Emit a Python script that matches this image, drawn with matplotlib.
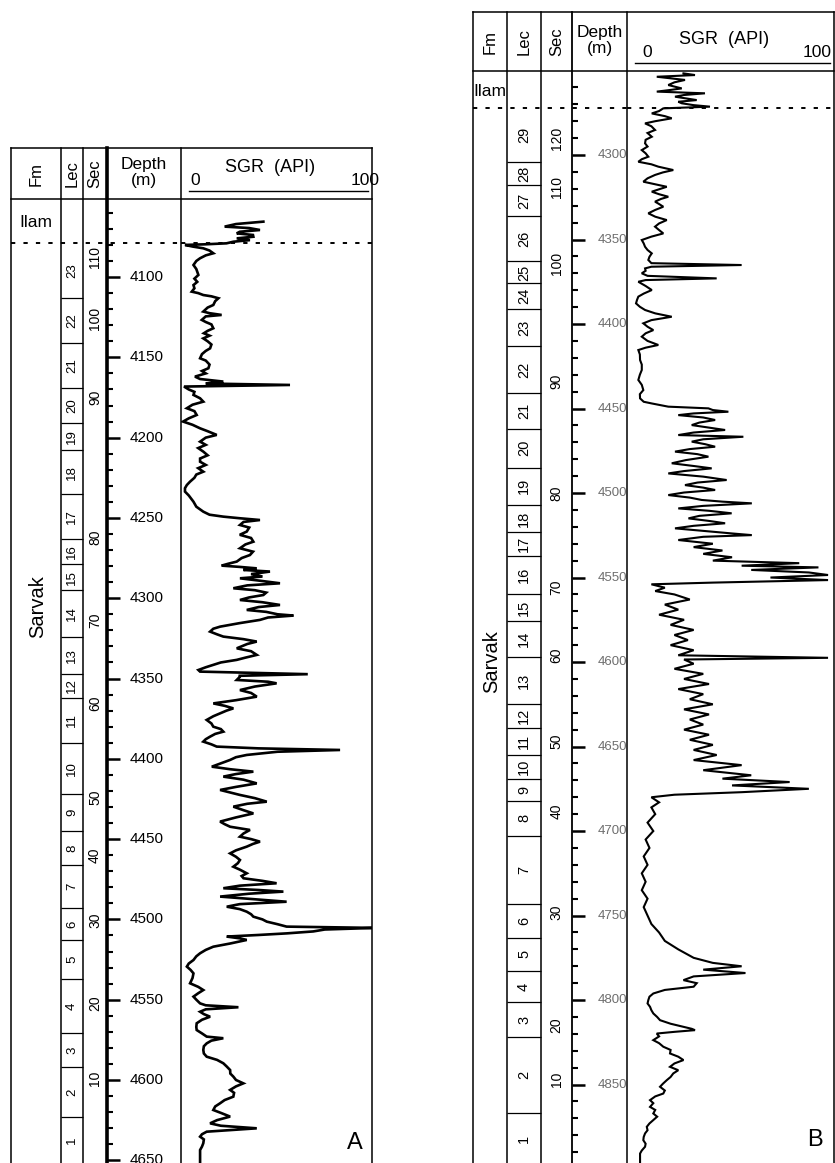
import numpy as np
import matplotlib.pyplot as plt

plt.rcParams['font.family'] = ['Liberation Sans', 'DejaVu Sans']

W, H = 835, 1163

# ---------------- well A ----------------
a_lec_bounds = [4079, 4113, 4141, 4169, 4191, 4208, 4235, 4263, 4279, 4295, 4324, 4347,
                4362, 4390, 4422, 4445, 4466, 4493, 4513, 4537, 4571, 4592, 4623, 4652]
a_lec_names = list(range(23, 0, -1))
a_sec_labels = [110, 100, 90, 80, 70, 60, 50, 40, 30, 20, 10]
a_sec_depths = [4087.5, 4125.5, 4174.7, 4261.9, 4313.6, 4365.3, 4423.8, 4459.9, 4500.4, 4552.1, 4598.8]
a_contact = 4079

a_depth = [4065.5, 4067, 4068.6, 4069.5, 4070.7, 4071.8, 4072.8, 4073.8, 4074.9, 4075.9, 4077, 4078,
           4079, 4079.6, 4080, 4081, 4082.1, 4083.5, 4085.2, 4086.5, 4088.3, 4090, 4092.5, 4095,
           4098.7, 4101, 4103, 4105, 4107, 4109.1, 4110, 4111.2, 4112, 4113.2, 4115, 4117.4,
           4119, 4121.5, 4122.5, 4123.6, 4124.5, 4126.7, 4128, 4129.5, 4131.9, 4133.5, 4135, 4136.5,
           4138.2, 4140, 4142, 4144.4, 4146, 4148, 4150.6, 4152, 4154.5, 4156.8, 4158.5, 4160,
           4162, 4163.5, 4165.1, 4166.3, 4167.2, 4168.2, 4170, 4171.5, 4173.4, 4175.5, 4177.6, 4179.5,
           4181.7, 4183.5, 4185.9, 4188, 4190, 4192, 4194.2, 4196, 4198.3, 4200, 4202.5, 4204.5,
           4206.5, 4208.7, 4211, 4213, 4215, 4217, 4219, 4221.2, 4223, 4225, 4227.4, 4229.5,
           4231.5, 4233.6, 4236, 4239.9, 4243, 4246.1, 4248, 4249.2, 4250.2, 4251.3, 4252.5, 4254.4,
           4256, 4258.5, 4260.5, 4262.5, 4264.8, 4266.5, 4268.9, 4271, 4273.1, 4275, 4277.2, 4278.5,
           4279.7, 4280.5, 4281.4, 4282.4, 4283.4, 4285, 4286.5, 4287.6, 4289, 4290.7, 4292, 4293.8,
           4295, 4296.5, 4298, 4299.5, 4301.1, 4302.5, 4304.2, 4305.5, 4307.3, 4308.5, 4310, 4310.8,
           4312, 4313.5, 4315.5, 4317.7, 4319, 4320.8, 4322.5, 4323.9, 4325.5, 4327, 4328.5, 4331.2,
           4333, 4335.3, 4337, 4338.4, 4340, 4341.5, 4343, 4344.7, 4345.7, 4347.3, 4348.3, 4349,
           4350.9, 4352, 4353, 4355, 4357.2, 4359, 4361.3, 4363.5, 4365.5, 4367, 4368.6, 4370,
           4371.7, 4373.5, 4375.8, 4378, 4380, 4381.5, 4383.1, 4384.5, 4386.2, 4387.8, 4389.3, 4391,
           4392.4, 4393.5, 4394.5, 4395.6, 4397.6, 4399, 4400.7, 4402.8, 4404.9, 4406.5, 4408, 4409.5,
           4411.1, 4413, 4415.3, 4417.5, 4419.4, 4421, 4422.5, 4424.5, 4426.7, 4428, 4429.8, 4432,
           4434, 4436.5, 4439.1, 4440.7, 4442.3, 4443.3, 4444.3, 4446.5, 4448.5, 4450, 4451.6, 4453,
           4454.7, 4457, 4458.9, 4461, 4463, 4465, 4467.2, 4469, 4471.3, 4473, 4474.4, 4476,
           4477.5, 4479, 4480.6, 4481.7, 4482.7, 4484, 4485.8, 4487.5, 4489, 4490.5, 4492.1, 4493.6,
           4495.2, 4496.8, 4498.3, 4500, 4501.4, 4503, 4504.5, 4505.3, 4506.3, 4507.5, 4508.7, 4509.7,
           4510.7, 4511.8, 4512.8, 4515, 4517, 4519, 4521.1, 4523, 4525.3, 4527.5, 4529.4, 4531.5,
           4533.6, 4536.5, 4539.8, 4542, 4544, 4546, 4548.1, 4550, 4552.3, 4553.5, 4554.7, 4556,
           4557.5, 4559, 4560.6, 4562.5, 4564.7, 4567, 4568.9, 4571, 4573, 4574, 4575.5, 4577.2,
           4579, 4581.3, 4583.5, 4585.5, 4587.5, 4589.6, 4591.5, 4593.8, 4596, 4597.9, 4600, 4602.1,
           4604, 4606.2, 4608, 4610.4, 4612.5, 4614.5, 4616.5, 4618.7, 4620.5, 4622.8, 4625, 4627,
           4628.5, 4630.1, 4631.2, 4632.2, 4633.8, 4635.3, 4637, 4639.4, 4641.5, 4643.6, 4652]
a_sgr = [42.5, 28, 22, 35, 40.7, 30, 28.4, 37, 37.2, 28.4, 35.4, 26.6,
         23, 12, 1, 5, 10.7, 14, 16, 12, 9, 7, 5.5, 7,
         8.1, 6, 7.5, 5.5, 6, 4.6, 8, 10.7, 15, 18.7, 17, 16,
         13, 10.7, 14, 20.4, 12, 9.9, 12, 15, 16, 13, 11, 14,
         10.7, 13, 15, 14.3, 12, 10, 9, 12, 14, 13.4, 10, 12,
         6.3, 9, 21.3, 12, 56.6, 0.5, 3, 6, 5.5, 9, 10.7, 5,
         2, 6, 7.2, 3, 0, 5, 9, 13, 17.8, 12, 9, 12,
         8, 10.7, 13, 9, 9, 12, 8, 10.7, 7, 6, 3.7, 2,
         1, 1, 3, 5.5, 7, 10.7, 14, 21.3, 30, 40.7, 32, 30.1,
         35, 33.7, 30, 36, 37.2, 33, 30.1, 37, 35.4, 31, 28.4, 24,
         20.4, 30, 39, 32, 46, 36, 42, 30.1, 40, 51.3, 34, 26.6,
         38, 44, 42.5, 35, 30.1, 42, 51.3, 40, 33.7, 44, 50, 58.4,
         45, 40.7, 30, 19.6, 16, 14.3, 18, 21.3, 32, 39, 34, 28.4,
         36, 39, 33, 28.4, 20, 16, 12, 8.1, 9, 66, 30, 30,
         28.4, 45, 49.5, 38, 30.1, 36, 39, 28, 16, 22, 26.6, 23,
         19.6, 16, 12.5, 15, 16, 20, 21.3, 17, 14.3, 12, 10.7, 15,
         17.8, 40, 83.1, 50, 33.7, 28, 24.9, 20, 15.2, 25, 37.2, 28,
         21.3, 32, 39, 28, 19.6, 25, 30.1, 38, 44.3, 34, 26.6, 32,
         37.2, 28, 19.6, 22, 24.9, 30, 35.4, 32, 30.1, 36, 40.7, 37,
         33.7, 28, 24.9, 28, 30.1, 29, 26.6, 30, 33.7, 31, 32, 42,
         49.5, 30, 21.3, 40, 53.1, 35, 19.6, 38, 54.8, 30, 23.1, 30,
         33.7, 36, 37.2, 42, 44.3, 50, 54.8, 101.6, 75, 68.9, 55, 40,
         23.1, 30, 33.7, 25, 16, 12, 9, 7, 5.5, 3, 2, 4,
         5.5, 5, 3.7, 8, 10.7, 8, 5.5, 7, 9, 12, 29.3, 12,
         9, 11, 14.3, 10, 7.2, 7, 7.2, 10, 12.5, 21.3, 15, 12.5,
         11, 10.7, 11, 12.5, 18, 21.3, 23, 24.9, 25, 26.6, 28, 31.9,
         28, 24.9, 27, 26.6, 22, 19.6, 17, 16, 20, 24.9, 18, 14.3,
         20, 39, 25, 12.5, 10, 9, 11, 10.7, 10, 9, 9]

# ---------------- well B ----------------
b_lec_bounds = [4272, 4304, 4318, 4336, 4363, 4376, 4391, 4413, 4441, 4462, 4485, 4507, 4523, 4537, 4560,
                4576, 4597, 4625, 4639, 4655, 4669, 4682, 4703, 4743, 4763, 4783, 4801, 4822, 4867, 4897]
b_lec_names = list(range(29, 0, -1))
b_sec_labels = [120, 110, 100, 90, 80, 70, 60, 50, 40, 30, 20, 10]
b_sec_depths = [4290, 4319, 4364, 4434, 4500, 4556, 4596, 4647, 4688, 4748, 4815, 4847]
b_contact = 4272.3

b_depth = [4251.7, 4252.7, 4253.7, 4255.6, 4257, 4258.6, 4260.6, 4261.5, 4262.5, 4263.5, 4264.5, 4265.5,
           4267.5, 4268.5, 4269.4, 4270.5, 4271.4, 4272.4, 4274, 4275.4, 4277, 4278.3, 4280, 4281.3,
           4283, 4285.2, 4287, 4289.2, 4291, 4293.1, 4295, 4297.1, 4299, 4301, 4302.5, 4304,
           4305.5, 4306.9, 4308.9, 4310.3, 4311.8, 4313.8, 4315.8, 4317.3, 4318.8, 4320.3, 4321.7, 4323.2,
           4324.7, 4326, 4327.6, 4329, 4330.6, 4332.5, 4334.5, 4336.5, 4338.5, 4340.5, 4342.4, 4344.4,
           4346.4, 4348.3, 4350.3, 4352.3, 4354.3, 4356.2, 4358.2, 4360.2, 4362.1, 4364, 4365.1, 4366.1,
           4367.1, 4368.5, 4370, 4371.5, 4373, 4374, 4375, 4377.5, 4379.9, 4382, 4383.8, 4385.8,
           4387.8, 4389.8, 4391.7, 4393.7, 4395.7, 4397.7, 4399.6, 4401.6, 4403.6, 4405.5, 4407.5, 4410,
           4412.4, 4414, 4415.4, 4418, 4421.3, 4424, 4427.2, 4430, 4433.1, 4436, 4439.1, 4441.5,
           4444, 4446, 4447, 4448.9, 4449.9, 4450.9, 4451.9, 4452.9, 4453.9, 4455.3, 4456.8, 4458.3,
           4459.8, 4461.3, 4462.7, 4464.2, 4465.7, 4466.7, 4468.2, 4469.6, 4471.1, 4472.6, 4474, 4475.5,
           4477, 4478.5, 4480.5, 4482.4, 4484, 4485.4, 4487, 4488.4, 4490.3, 4492.3, 4493.8, 4495.3,
           4496.8, 4498.2, 4499.7, 4501.2, 4502.7, 4504.1, 4505.1, 4506.1, 4507.6, 4509.1, 4510.5, 4512,
           4513.5, 4515, 4516.5, 4517.9, 4519.4, 4520.9, 4522.4, 4523.9, 4524.9, 4525.9, 4527.8, 4530,
           4532, 4534, 4536, 4538, 4540, 4541.5, 4543, 4544, 4545.5, 4547, 4548.5, 4550,
           4551.5, 4553, 4554, 4556, 4558, 4560, 4563, 4566, 4569, 4572, 4575, 4578,
           4581, 4584, 4587, 4590, 4593, 4596, 4597.5, 4598.5, 4601, 4604, 4607, 4610,
           4613, 4616, 4619, 4622, 4625, 4628, 4631, 4634, 4637, 4640, 4643, 4646,
           4649, 4652, 4655, 4658, 4661, 4664, 4667, 4669, 4671, 4673, 4675, 4677,
           4678.5, 4680, 4683, 4686, 4690, 4695, 4700, 4705, 4710, 4715, 4720, 4725,
           4730, 4735, 4740, 4745, 4750, 4755, 4760, 4765, 4770, 4775, 4778, 4780,
           4782, 4784, 4786, 4788.2, 4790, 4792.1, 4794, 4796.1, 4798, 4800, 4802, 4804,
           4806, 4807.9, 4810, 4811.9, 4814, 4815.8, 4817, 4817.8, 4818.8, 4819.8, 4821.5, 4823.7,
           4825.5, 4827.6, 4829.5, 4831.6, 4833.5, 4835.5, 4837.5, 4839.5, 4841.5, 4843.4, 4845.5, 4847.4,
           4849.5, 4851.3, 4853.5, 4855.3, 4857, 4859.2, 4861, 4863.2, 4865, 4867.1, 4869, 4871,
           4873, 4875, 4877, 4878.9, 4881, 4882.9, 4885, 4886.8, 4889, 4890.8, 4897]
b_sgr = [24.7, 30.7, 10.8, 25.5, 20, 16.8, 23.8, 18, 10.8, 35.9, 25, 20.3,
         31.6, 22, 23.8, 30, 38.5, 14.2, 12, 8.2, 15, 18.6, 10, 4.7,
         8, 9.9, 6, 8.2, 5, 4.7, 6, 3, 5, 6.4, 3, 1.2,
         8, 11.6, 19.4, 14, 9.9, 6, 3.8, 10, 16, 12, 8.2, 12,
         16.8, 13, 9.9, 12, 14.2, 10, 6.4, 10, 16, 12, 9.9, 12,
         14.2, 8, 3, 4, 4.7, 6, 8.2, 7, 6.4, 8, 55, 8,
         4.7, 5, 3, 6, 42, 5, 1.2, 5, 8.2, 4, 1.2, 0.5,
         0, 2, 4.7, 10, 18.6, 8, 3.8, 6, 9, 5, 3, 6,
         11.6, 5, 1.2, 2, 2.1, 3, 3, 2, 1.2, 3, 3.8, 2,
         2.1, 4, 8.2, 16.8, 37.7, 40, 48.1, 30, 22, 35, 41.2, 33,
         29, 38, 46.4, 30, 22, 55.9, 35, 29, 36, 41.2, 28, 20.3,
         32, 37.7, 26, 18.6, 30, 39.4, 25, 16.8, 35, 47.2, 32, 25.5,
         35, 41.2, 25, 16.8, 28, 34.2, 45, 60.3, 35, 22, 38, 49.8,
         33, 27.3, 38, 46.4, 30, 20.3, 35, 49.8, 60.3, 35, 22, 40,
         30, 45, 35, 50, 40, 85, 55, 95, 60, 90, 100, 70,
         100, 40, 8, 15, 10, 20, 28, 15, 22, 12, 25, 18,
         30, 20, 27, 18, 30, 22, 100, 25, 30, 20, 35, 25,
         38, 22, 35, 28, 40, 25, 38, 28, 35, 25, 38, 28,
         40, 30, 42, 30, 55, 35, 60, 45, 80, 50, 90, 55,
         20, 8, 12, 8, 10, 6, 9, 5, 7, 4, 6, 3,
         5, 3, 6, 4, 6, 8, 12, 15, 22, 30, 40, 55,
         35, 57, 30, 24.7, 31.6, 30, 15, 9, 7, 6.4, 6, 7.3,
         8, 9, 11, 12.5, 18, 24.7, 29, 30.7, 20, 10.8, 12, 9,
         12, 14.2, 18, 17.7, 22, 24.7, 20, 17.7, 22, 19.4, 18, 16,
         14, 12.5, 15, 14.2, 10, 7.3, 9, 7.3, 10, 9, 11, 9,
         7, 5.6, 6, 4.7, 4, 3.8, 5, 4.7, 3, 2.1, 2.1]

# pixel layout of the two log panels
panel_a = dict(left=11, fm=61, lec=83, sec=107, dep=181, right=372, top=148, head=199, bottom=1163,
               d_top=4051.4, d_bot=4651.7, api=(-1.1, 100), tick0=4060, sec_lw=2.6,
               lab_color='black', lab_size=11, lec_size=9.5, curve_lw=1.9, sarvak=4305,
               zero_dx=14, hundred_dx=-7, tag='A', tag_xy=(355, 1143))
panel_b = dict(left=473, fm=507, lec=541, sec=572, dep=627, right=834, top=12, head=71, bottom=1163,
               d_top=4250.3, d_bot=4896.4, api=(-4.7, 103.1), tick0=4260, sec_lw=1.3,
               lab_color='#6e6e6e', lab_size=9.5, lec_size=10.5, curve_lw=1.5, sarvak=4600,
               zero_dx=20, hundred_dx=-17, tag='B', tag_xy=(815, 1140))

fig = plt.figure(figsize=(W / 100, H / 100), dpi=100)


def px_axes(x0, y0, x1, y1):
    return fig.add_axes([x0 / W, 1 - y1 / H, (x1 - x0) / W, (y1 - y0) / H])


def draw_panel(p, lec_bounds, lec_names, sec_labels, sec_depths, contact, depth, sgr):
    # columns Fm / Lec / Sec / Depth
    ax = px_axes(p['left'], p['head'], p['dep'], p['bottom'])
    ax.set_xlim(p['left'], p['dep'])
    ax.set_ylim(p['d_bot'], p['d_top'])
    ax.axis('off')

    ax.hlines(lec_bounds[1:-1], p['fm'], p['lec'], color='black', lw=0.9)
    lec_x = (p['fm'] + p['lec']) / 2
    for name, top, bot in zip(lec_names, lec_bounds[:-1], lec_bounds[1:]):
        ax.text(lec_x, (top + bot) / 2, str(name), rotation=90, ha='center', va='center',
                fontsize=p['lec_size'], clip_on=True)

    sec_x = (p['lec'] + p['sec']) / 2
    for lbl, d in zip(sec_labels, sec_depths):
        ax.text(sec_x, d, str(lbl), rotation=90, ha='center', va='center', fontsize=10)

    ticks = np.arange(p['tick0'], p['d_bot'] + 10, 10)
    major = ticks[ticks % 50 == 0]
    minor = ticks[ticks % 50 != 0]
    ax.hlines(minor, p['sec'], p['sec'] + 6, color='black', lw=1.5)
    ax.hlines(major, p['sec'], p['sec'] + 13, color='black', lw=1.8)
    for d in major:
        ax.text(p['sec'] + 40, d, str(int(d)), ha='center', va='center', fontsize=p['lab_size'],
                color=p['lab_color'], clip_on=True)

    fm_x = (p['left'] + p['fm']) / 2
    ax.text(fm_x, (p['d_top'] + contact) / 2 + 1, 'Ilam', ha='center', va='center', fontsize=12.5)
    ax.text(fm_x + 2, p['sarvak'], 'Sarvak', rotation=90, ha='center', va='center', fontsize=14.5)
    ax.axhline(contact, color='black', lw=1.4, ls=(0, (2.2, 4.2)))

    # SGR track
    tr = px_axes(p['dep'], p['head'], p['right'], p['bottom'])
    tr.set_xlim(*p['api'])
    tr.set_ylim(p['d_bot'], p['d_top'])
    tr.axis('off')
    tr.plot(sgr, depth, color='black', lw=p['curve_lw'], solid_joinstyle='miter')
    tr.axhline(contact, color='black', lw=1.4, ls=(0, (2.2, 4.2)))


draw_panel(panel_a, a_lec_bounds, a_lec_names, a_sec_labels, a_sec_depths, a_contact, a_depth, a_sgr)
draw_panel(panel_b, b_lec_bounds, b_lec_names, b_sec_labels, b_sec_depths, b_contact, b_depth, b_sgr)

# frames and header text in pixel coordinates
ov = px_axes(0, 0, W, H)
ov.set_xlim(0, W)
ov.set_ylim(H, 0)
ov.axis('off')
for p in (panel_a, panel_b):
    for key in ('left', 'fm', 'lec', 'dep', 'right'):
        ov.plot([p[key], p[key]], [p['top'], p['bottom']], color='black', lw=1.1)
    ov.plot([p['sec'], p['sec']], [p['top'], p['bottom']], color='black', lw=p['sec_lw'])
    ov.plot([p['left'], p['right']], [p['top'], p['top']], color='black', lw=1.1)
    ov.plot([p['left'], p['right']], [p['head'], p['head']], color='black', lw=1.1)

    mid = (p['top'] + p['head']) / 2
    ov.text((p['left'] + p['fm']) / 2, mid, 'Fm', rotation=90, ha='center', va='center', fontsize=12)
    ov.text((p['fm'] + p['lec']) / 2, mid, 'Lec', rotation=90, ha='center', va='center', fontsize=12)
    ov.text((p['lec'] + p['sec']) / 2, mid, 'Sec', rotation=90, ha='center', va='center', fontsize=12)
    ov.text((p['sec'] + p['dep']) / 2, mid - 1, 'Depth\n(m)', ha='center', va='center', fontsize=12.5,
            linespacing=1.1)
    ul = p['head'] - 8
    ov.plot([p['dep'] + 8, p['right'] - 4], [ul, ul], color='black', lw=1.0)
    ov.text(p['dep'] + p['zero_dx'], ul - 3, '0', ha='center', va='bottom', fontsize=12.5)
    ov.text(p['right'] + p['hundred_dx'], ul - 3, '100', ha='center', va='bottom', fontsize=12.5)
    ov.text((p['dep'] + p['right']) / 2 - 6, ul - 15, 'SGR  (API)', ha='center', va='bottom',
            fontsize=13)
    ov.text(*p['tag_xy'], p['tag'], ha='center', va='center', fontsize=17)

fig.savefig('out.png', dpi=100, facecolor='white')
